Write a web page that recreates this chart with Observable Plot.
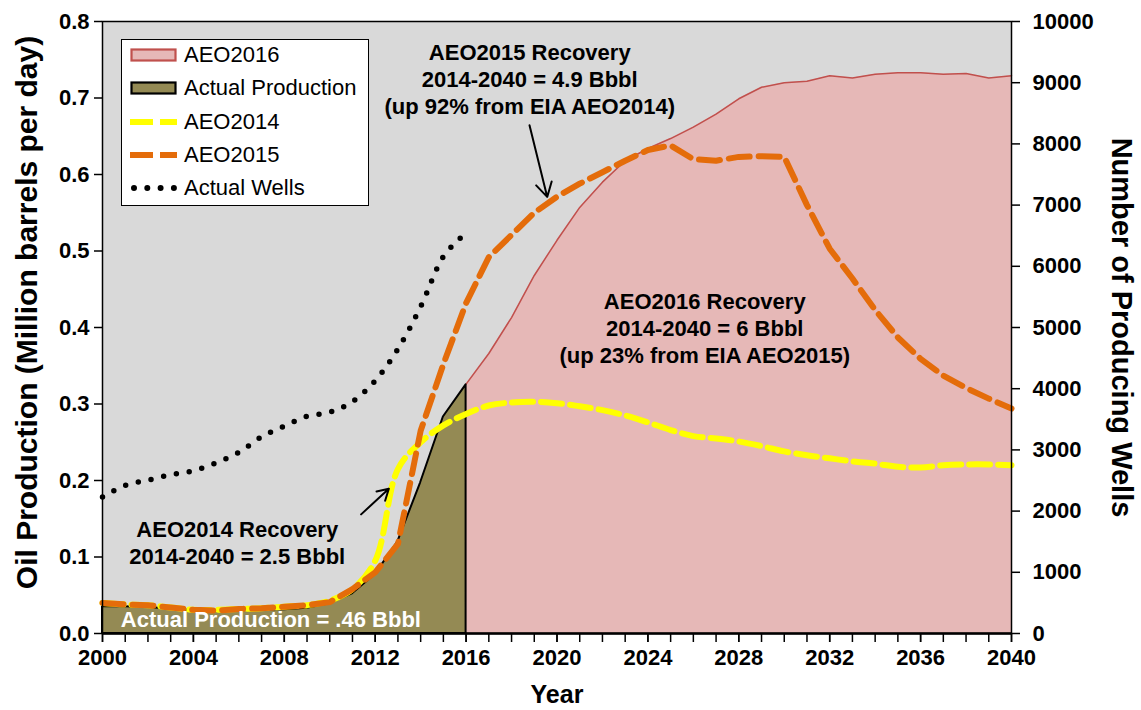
<!DOCTYPE html>
<html><head><meta charset="utf-8">
<script src="https://cdn.jsdelivr.net/npm/d3@7"></script>
<script src="https://cdn.jsdelivr.net/npm/@observablehq/plot@0.6"></script>
<style>
body{margin:0;background:#fff;}
#wrap{position:relative;width:1141px;height:710px;font-family:"Liberation Sans",Arial,sans-serif;}
#legend{position:absolute;left:121px;top:39px;width:248px;height:167px;background:#fff;border:1.5px solid #000;box-sizing:border-box;}
.row{position:absolute;left:8px;height:30px;display:flex;align-items:center;font-size:22px;color:#000;white-space:nowrap;}
.row svg{margin-right:7px;}
</style></head>
<body><div id="wrap"><div id="legend"></div></div>
<script>
// ---- data ----
const histYears = d3.range(2000, 2017);
const actualProd = [0.035,0.035,0.034,0.032,0.030,0.030,0.030,0.031,0.031,0.033,0.039,0.052,0.077,0.120,0.197,0.283,0.325];

const aeo2016Years = d3.range(2016, 2041);
const aeo2016 = [0.326,0.366,0.413,0.468,0.514,0.557,0.590,0.618,0.634,0.647,0.662,0.679,0.699,0.714,0.720,0.722,0.729,0.726,0.731,0.733,0.733,0.731,0.732,0.726,0.729];

const projYears = d3.range(2000, 2041);
const aeo2014 = [0.040,0.038,0.037,0.034,0.031,0.031,0.032,0.033,0.035,0.037,0.043,0.058,0.095,0.215,0.250,0.272,0.287,0.298,0.302,0.303,0.301,0.297,0.292,0.285,0.276,0.266,0.258,0.255,0.251,0.245,0.238,0.233,0.229,0.225,0.222,0.218,0.217,0.220,0.221,0.221,0.220];
const aeo2015 = [0.040,0.038,0.037,0.034,0.031,0.030,0.032,0.033,0.035,0.037,0.041,0.058,0.080,0.117,0.265,0.352,0.432,0.492,0.521,0.550,0.571,0.588,0.603,0.618,0.632,0.638,0.620,0.618,0.623,0.624,0.623,0.560,0.503,0.464,0.423,0.387,0.359,0.337,0.321,0.307,0.294];

const wellYears = [2000,2001,2002,2003,2004,2005,2006,2007,2008,2009,2010,2011,2012,2013,2014,2015,2015.8];
const wells = [2231,2420,2505,2595,2660,2790,2960,3215,3390,3550,3615,3790,4130,4650,5340,6159,6480];

const yTicks = [0,0.1,0.2,0.3,0.4,0.5,0.6,0.7,0.8];
const wellTicks = [0,1000,2000,3000,4000,5000,6000,7000,8000,9000,10000];
const xLabelTicks = [2000,2004,2008,2012,2016,2020,2024,2028,2032,2036,2040];
const WELLS_PER_UNIT = 12500; // 10000 wells <-> 0.8

const annotations = [
  {x:2018.8, y:0.7256, t:"AEO2015 Recovery\n2014-2040 = 4.9 Bbbl\n(up 92% from EIA AEO2014)", fill:"#000"},
  {x:2026.5, y:0.4003, t:"AEO2016 Recovery\n2014-2040 = 6 Bbbl\n(up 23% from EIA AEO2015)", fill:"#000"},
  {x:2005.93, y:0.1194, t:"AEO2014 Recovery\n2014-2040 = 2.5 Bbbl", fill:"#000"},
  {x:2007.41, y:0.0192, t:"Actual Production = .46 Bbbl", fill:"#fff"}
];
const arrows = [
  {x1:2018.79, y1:0.6645, x2:2019.57, y2:0.5707},
  {x1:2011.38, y1:0.1557, x2:2012.60, y2:0.1893}
];

// ---- tables ----
const actualData = histYears.map((year,i)=>({year, v:actualProd[i]}));
const aeo2016Data = aeo2016Years.map((year,i)=>({year, v:aeo2016[i]}));
const aeo2014Data = projYears.map((year,i)=>({year, v:aeo2014[i]}));
const aeo2015Data = projYears.map((year,i)=>({year, v:aeo2015[i]}));
const wellData = wellYears.map((year,i)=>({year, v:wells[i]/WELLS_PER_UNIT}));

const C = {bg:"#d9d9d9", pink:"#e6b8b7", red:"#c0504d", olive:"#948a54", yellow:"#ffff00", orange:"#e46c0a"};

const chart = Plot.plot({
  width:1141, height:710,
  marginLeft:102, marginRight:130, marginTop:21, marginBottom:77,
  style:{fontFamily:"Liberation Sans, Arial, sans-serif", fontWeight:"bold", fontSize:"22px", color:"#000", background:"transparent", overflow:"visible"},
  x:{domain:[2000,2040]},
  y:{domain:[0,0.8]},
  marks:[
    Plot.frame({fill:C.bg}),
    Plot.areaY(aeo2016Data, {x:"year", y:"v", fill:C.pink}),
    Plot.lineY(aeo2016Data, {x:"year", y:"v", stroke:C.red, strokeWidth:1.5}),
    Plot.areaY(actualData, {x:"year", y:"v", fill:C.olive, stroke:"#000", strokeWidth:2}),
    Plot.lineY(wellData, {x:"year", y:"v", stroke:"#000", strokeWidth:5.5, strokeDasharray:"0 13", strokeLinecap:"round", curve:"catmull-rom"}),
    Plot.lineY(aeo2014Data, {x:"year", y:"v", stroke:C.yellow, strokeWidth:6, strokeDasharray:"21 8", curve:"catmull-rom"}),
    Plot.lineY(aeo2015Data, {x:"year", y:"v", stroke:C.orange, strokeWidth:6, strokeDasharray:"21 9"}),
    Plot.text(annotations, {x:"x", y:"y", text:"t", fill:"fill", fontSize:22, fontWeight:"bold", lineHeight:1.22}),
    Plot.arrow(arrows, {x1:"x1", y1:"y1", x2:"x2", y2:"y2", stroke:"#000", strokeWidth:2, headLength:12}),
    Plot.frame({stroke:"#000", strokeWidth:1.5}),
    Plot.ruleY([0], {stroke:"#000", strokeWidth:2.5}),
    Plot.axisY({ticks:yTicks, tickFormat:d=>d.toFixed(1), tickSize:8, tickPadding:5, label:null, strokeWidth:1.5}),
    Plot.axisY({anchor:"right", ticks:wellTicks.map(w=>w/WELLS_PER_UNIT), tickFormat:d=>String(Math.round(d*WELLS_PER_UNIT)), tickSize:8, tickPadding:13, textAnchor:"start", label:null, strokeWidth:1.5}),
    Plot.axisX({ticks:projYears, tickFormat:()=>"", tickSize:9, label:null, strokeWidth:1.5}),
    Plot.axisX({ticks:xLabelTicks, tickFormat:d=>String(d), tickSize:9, tickPadding:7, label:null, strokeWidth:1.5}),
    Plot.text(["Oil Production (Million barrels per day)"], {text:d=>d, frameAnchor:"left", textAnchor:"middle", lineAnchor:"middle", dx:-75, dy:-15, rotate:-90, fontSize:30, fontWeight:"bold"}),
    Plot.text(["Number of Producing Wells"], {text:d=>d, frameAnchor:"right", textAnchor:"middle", lineAnchor:"middle", dx:110, rotate:90, fontSize:29, fontWeight:"bold"}),
    Plot.text(["Year"], {text:d=>d, frameAnchor:"bottom", lineAnchor:"middle", dy:61, fontSize:25, fontWeight:"bold"})
  ]
});
document.getElementById("wrap").prepend(chart);

// ---- legend ----
const legendItems = [
  {label:"AEO2016", kind:"rect", fill:C.pink, stroke:C.red},
  {label:"Actual Production", kind:"rect", fill:C.olive, stroke:"#000"},
  {label:"AEO2014", kind:"dash", stroke:C.yellow},
  {label:"AEO2015", kind:"dash", stroke:C.orange},
  {label:"Actual Wells", kind:"dots", stroke:"#000"}
];
const leg = document.getElementById("legend");
legendItems.forEach((it,i)=>{
  const row = document.createElement("div");
  row.className = "row";
  row.style.top = (0 + i*33.3) + "px";
  let sym = "";
  if (it.kind==="rect") sym = `<rect x="1.5" y="9.5" width="44" height="11" fill="${it.fill}" stroke="${it.stroke}" stroke-width="2.2"/>`;
  else if (it.kind==="dash") sym = `<line x1="0" y1="15" x2="47" y2="15" stroke="${it.stroke}" stroke-width="6" stroke-dasharray="23 7"/>`;
  else sym = `<line x1="4" y1="15" x2="44" y2="15" stroke="#000" stroke-width="6" stroke-linecap="round" stroke-dasharray="0 13.3"/>`;
  row.innerHTML = `<svg width="47" height="30">${sym}</svg><span>${it.label}</span>`;
  leg.appendChild(row);
});
</script>
</body></html>
